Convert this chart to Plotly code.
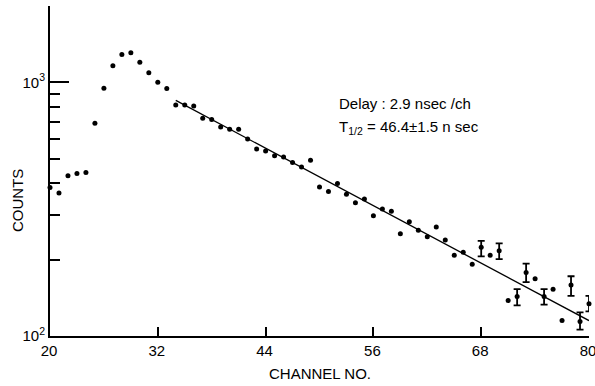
import plotly.graph_objects as go

# Channel numbers and counts
channels = list(range(20, 81))
counts = [385, 366, 428, 437, 441, 690, 947, 1163, 1289, 1309,
          1199, 1092, 1000, 945, 814, 814, 807, 722, 713, 667,
          653, 653, 598, 546, 536, 514, 508, 483, 464, 493,
          387, 371, 399, 362, 335, 347, 298, 317, 310, 253,
          282, 261, 246, 269, 239, 208, 214, 192, 224, 208,
          217, 138, 143, 178, 168, 143, 153, 115, 159, 114, 134]

# error bars (upper / lower ends) for selected channels
err_channels = [68, 70, 72, 73, 75, 78, 79, 80]
err_upper = [237, 232, 153, 193, 153, 172, 124, 144]
err_lower = [206, 201, 132, 163, 133, 144, 106, 125]

# fitted decay line end points
fit_x = [34, 80]
fit_y = [849, 115]

x_ticks = [20, 32, 44, 56, 68, 80]
y_major = [100, 1000]
y_major_text = ["10<sup>2</sup>", "10<sup>3</sup>"]
y_minor = [200, 300, 400, 500, 600, 700, 800, 900, 2000]

cmap = dict(zip(channels, counts))
eb_y = [cmap[c] for c in err_channels]
eb_plus = [u - cmap[c] for u, c in zip(err_upper, err_channels)]
eb_minus = [cmap[c] - l for l, c in zip(err_lower, err_channels)]

FONT = "Liberation Sans, Arial, sans-serif"
L, T, R, B = 50, 6, 6, 50
PW, PH = 595 - L - R, 386 - T - B


def px(x, y):
    return (x - L) / PW, (386 - B - y) / PH


fig = go.Figure()
fig.add_trace(go.Scatter(x=fit_x, y=fit_y, mode="lines",
                         line=dict(color="black", width=1.3),
                         hoverinfo="skip", cliponaxis=False))
fig.add_trace(go.Scatter(x=err_channels, y=eb_y, mode="markers",
                         marker=dict(size=1, color="black"),
                         error_y=dict(type="data", symmetric=False,
                                      array=eb_plus, arrayminus=eb_minus,
                                      color="black", thickness=1.8, width=3.5),
                         cliponaxis=False))
fig.add_trace(go.Scatter(x=channels, y=counts, mode="markers",
                         marker=dict(size=5, color="black"),
                         cliponaxis=False))

fig.update_layout(
    width=595, height=386,
    margin=dict(l=L, r=R, t=T, b=B),
    paper_bgcolor="white", plot_bgcolor="white",
    showlegend=False,
    font=dict(family=FONT, size=15, color="black"),
)
ax, ay = px(337, 103)
fig.add_annotation(x=ax, y=ay, xref="paper", yref="paper",
                   text="Delay : 2.9 nsec /ch", showarrow=False,
                   xanchor="left", yanchor="middle",
                   font=dict(family=FONT, size=15, color="black"))
ax, ay = px(337, 127)
fig.add_annotation(x=ax, y=ay, xref="paper", yref="paper",
                   text="T<sub>1/2</sub> = 46.4\u00b11.5 n sec", showarrow=False,
                   xanchor="left", yanchor="middle",
                   font=dict(family=FONT, size=15, color="black"))
ax, ay = px(18, 201)
fig.add_annotation(x=ax, y=ay, xref="paper", yref="paper",
                   text="COUNTS", showarrow=False, textangle=-90,
                   xanchor="center", yanchor="middle",
                   font=dict(family=FONT, size=15, color="black"))
ax, ay = px(320, 373)
fig.add_annotation(x=ax, y=ay, xref="paper", yref="paper",
                   text="CHANNEL NO.", showarrow=False,
                   xanchor="center", yanchor="middle",
                   font=dict(family=FONT, size=15, color="black"))

fig.update_xaxes(range=[20, 80], tickmode="array", tickvals=x_ticks,
                 ticks="inside", ticklen=9, tickwidth=2, tickcolor="black",
                 showline=True, linewidth=2, linecolor="black",
                 showgrid=False, zeroline=False, automargin=False,
                 ticklabeloverflow="allow", ticklabelshift=-1,
                 tickfont=dict(family=FONT, size=15))
fig.update_yaxes(type="log", range=[2, 3.301], tickmode="array",
                 tickvals=y_major, ticktext=y_major_text,
                 ticks="inside", ticklen=19, tickwidth=2, tickcolor="black",
                 minor=dict(tickmode="array", tickvals=y_minor, ticks="inside",
                            ticklen=10, tickwidth=2, tickcolor="black"),
                 showline=True, linewidth=2, linecolor="black",
                 showgrid=False, zeroline=False, automargin=False,
                 ticklabeloverflow="allow",
                 tickfont=dict(family=FONT, size=15))

fig.write_html("out.html", config={"displayModeBar": False},
               post_script="document.body.style.margin='0';document.body.style.padding='0';")
